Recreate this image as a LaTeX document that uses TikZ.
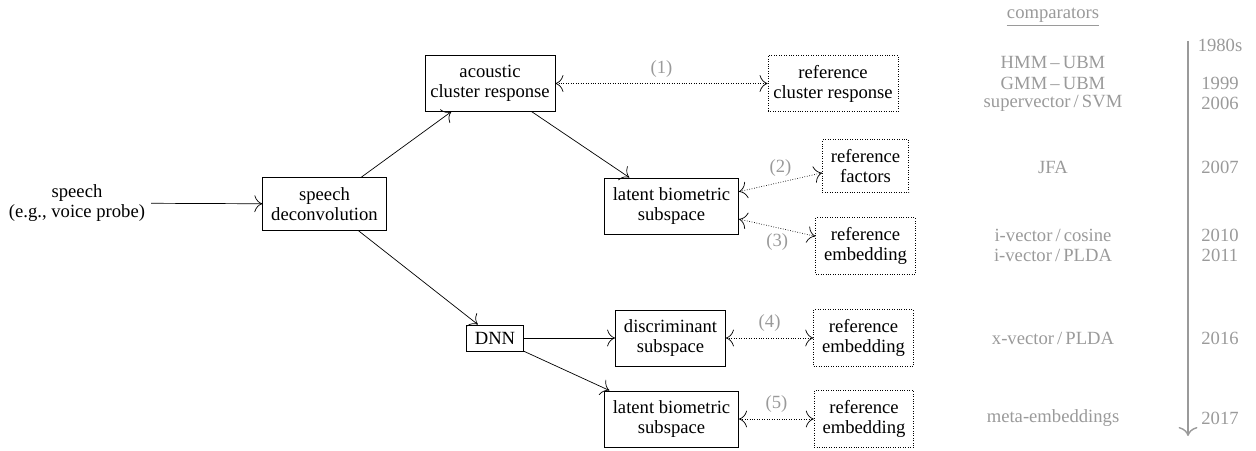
\documentclass[tikz,border=0pt]{standalone}
\usepackage{fontspec}
\setmainfont{Liberation Serif}
\usetikzlibrary{arrows.meta,positioning}
\definecolor{compgray}{HTML}{9A9A9A}

\begin{document}
\begin{tikzpicture}[font=\fontsize{10.6}{11.4}\selectfont,
  blk/.style={draw, align=center, inner xsep=4.8pt, inner ysep=5.5pt},
  refblk/.style={blk, densely dotted},
  arr/.style={-{To[length=1.6mm]}},
  cmp/.style={{To[length=1.6mm]}-{To[length=1.6mm]}, densely dotted},
  lbl/.style={text=compgray, font=\fontsize{10.6}{11.4}\selectfont}]
  \useasboundingbox (0,0) rectangle (25.12,9);
  % input and front end
  \node[align=center] (speech) at (1.54,4.94) {speech\\(e.g., voice probe)};
  \node[blk] (deconv) at (6.49,4.92) {speech\\deconvolution};
  \draw[arr] (speech) -- (deconv);
  % generative branch
  \node[blk, inner xsep=3pt] (acoustic) at (9.80,7.33) {acoustic\\cluster response};
  \node[blk] (latentA) at (13.43,4.88) {latent biometric\\subspace};
  \draw[arr] (deconv) -- (acoustic);
  \draw[arr] (acoustic) -- (latentA);
  % discriminative branch
  \node[blk, inner ysep=4pt] (dnn) at (9.90,2.24) {DNN};
  \node[blk] (discr) at (13.41,2.24) {discriminant\\subspace};
  \node[blk] (latentB) at (13.43,0.62) {latent biometric\\subspace};
  \draw[arr] (deconv) -- (dnn);
  \draw[arr] (dnn) -- (discr);
  \draw[arr] (dnn) -- (latentB);
  % reference side
  \node[refblk, inner xsep=3pt] (refclus) at (16.66,7.33) {reference\\cluster response};
  \node[refblk] (reffact) at (17.31,5.68) {reference\\factors};
  \node[refblk] (refembA) at (17.31,4.08) {reference\\embedding};
  \node[refblk] (refembB) at (17.27,2.24) {reference\\embedding};
  \node[refblk] (refembC) at (17.28,0.62) {reference\\embedding};
  \draw[cmp] (acoustic) -- (refclus) node[midway, above, lbl] {(1)};
  \draw[cmp] (latentA.12) -- (reffact.189) node[midway, above, lbl] {(2)};
  \draw[cmp] (latentA.-11) -- (refembA.169) node[midway, below, lbl] {(3)};
  \draw[cmp] (discr) -- (refembB) node[midway, above, lbl] {(4)};
  \draw[cmp] (latentB) -- (refembC) node[midway, above, lbl] {(5)};
  % comparators and years
  \node[lbl, inner xsep=0pt, inner ysep=1.5pt] (comphead) at (21.06,8.70) {comparators};
  \draw[compgray, line width=0.6pt] (comphead.south west) -- (comphead.south east);
  \foreach \n/\y/\txt in {hmm/7.76/{HMM\,--\,UBM}, gmm/7.34/{GMM\,--\,UBM},
      svm/6.94/{supervector\,/\,SVM}, jfa/5.66/{JFA}, cos/4.30/{i-vector\,/\,cosine},
      plda/3.90/{i-vector\,/\,PLDA}, xvec/2.24/{x-vector\,/\,PLDA}, meta/0.64/{meta-embeddings}}
    \node[lbl] (c-\n) at (21.06,\y) {\txt};
  \foreach \n/\y in {1980s/8.10, 1999/7.34, 2006/6.94, 2007/5.66, 2010/4.30,
      2011/3.90, 2016/2.24, 2017/0.64}
    \node[lbl] (yr-\n) at (24.40,\y) {\n};
  \coordinate (tl-top) at (23.76,8.18);
  \coordinate (tl-end) at (23.76,0.28);
  \draw[compgray, line width=0.8pt, -{To[length=1.8mm]}] (tl-top) -- (tl-end);
\end{tikzpicture}
\end{document}
